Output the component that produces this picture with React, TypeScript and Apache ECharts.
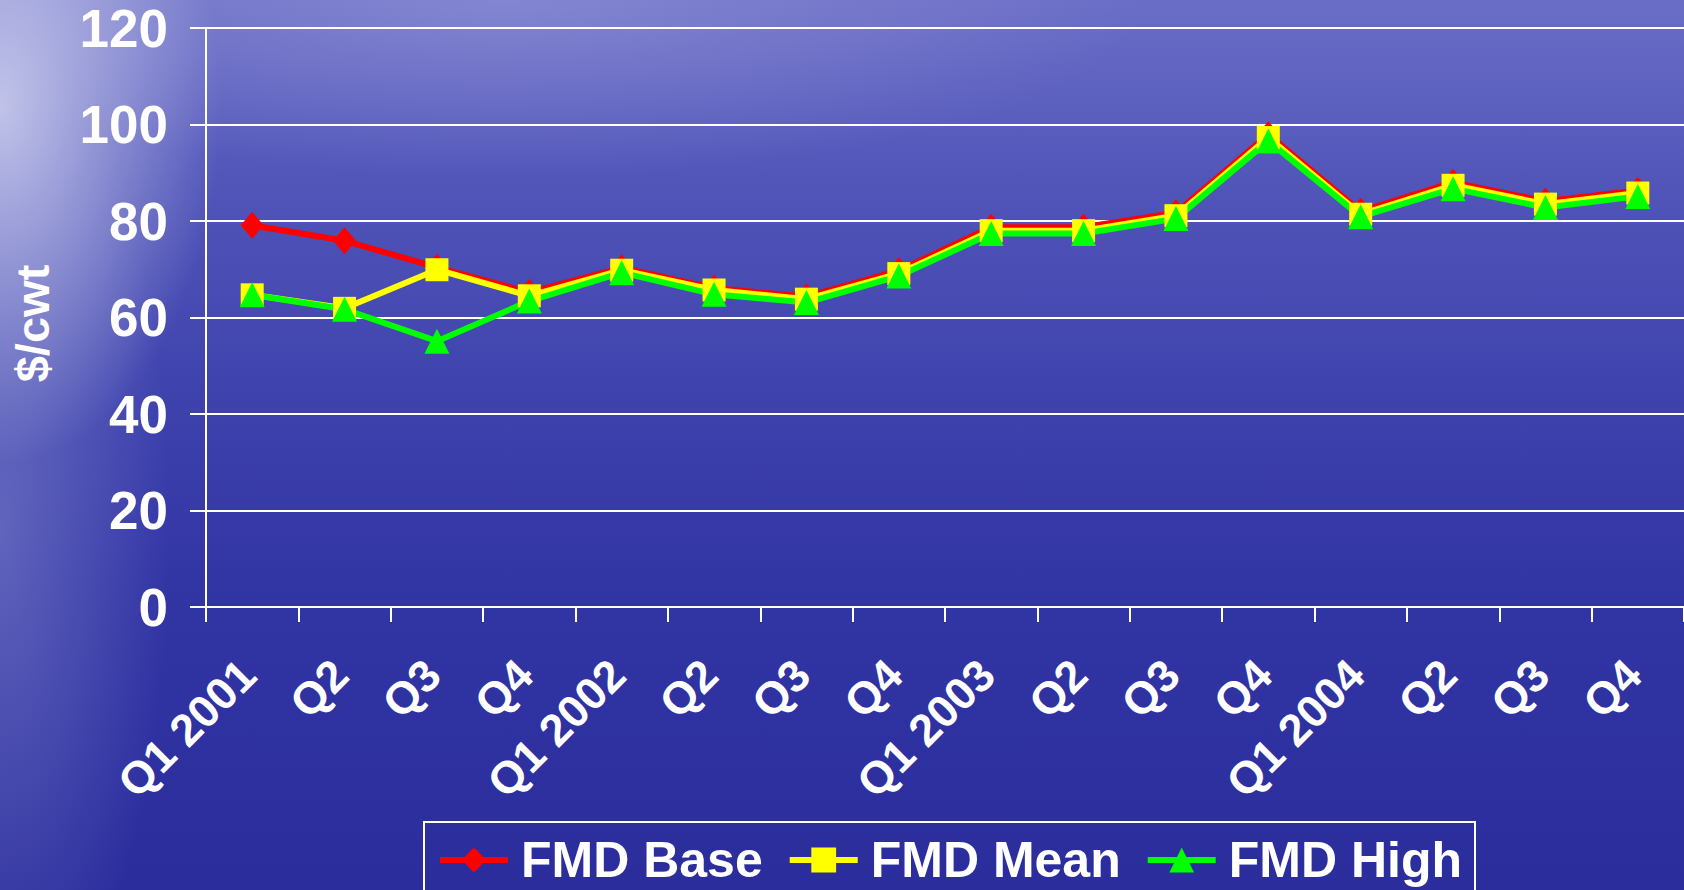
import React, { useEffect, useRef } from "react";
import * as echarts from "echarts";

// Quarterly price scenarios, $/cwt
const quarters = [
  "Q1 2001", "Q2", "Q3", "Q4",
  "Q1 2002", "Q2", "Q3", "Q4",
  "Q1 2003", "Q2", "Q3", "Q4",
  "Q1 2004", "Q2", "Q3", "Q4",
];
const fmdBase = [79.1, 75.9, 70.4, 65.2, 70.3, 66.1, 64.3, 69.7, 78.7, 78.7, 81.7, 97.9, 82.0, 88.0, 84.1, 86.3];
const fmdMean = [64.7, 61.9, 69.9, 64.5, 69.8, 65.7, 63.8, 69.1, 78.0, 78.0, 81.1, 97.3, 81.4, 87.4, 83.5, 85.8];
const fmdHigh = [64.7, 61.7, 55.1, 63.4, 69.3, 64.8, 63.1, 68.6, 77.4, 77.4, 80.5, 96.6, 80.9, 86.7, 82.8, 85.1];

const seriesNames = ["FMD Base", "FMD Mean", "FMD High"];
const yTicks = { min: 0, max: 120, interval: 20 };

const FONT = "'Liberation Sans', Arial, sans-serif";

export default function App() {
  const ref = useRef<HTMLDivElement>(null);

  useEffect(() => {
    if (!ref.current) return;
    const chart = echarts.init(ref.current, undefined, { renderer: "svg" });

    const lineSeries = (name: string, data: number[], color: string, symbol: string, size: any) => ({
      name,
      type: "line",
      data,
      symbol,
      symbolSize: size,
      showSymbol: true,
      lineStyle: { color, width: 6 },
      itemStyle: { color, borderWidth: 0 },
      emphasis: { disabled: true },
    });

    chart.setOption({
      animation: false,
      backgroundColor: "transparent",
      grid: { left: 206, right: -7, top: 28, bottom: 283, containLabel: false },
      legend: {
        left: 424,
        top: 822,
        orient: "horizontal",
        data: seriesNames,
        itemWidth: 68,
        itemHeight: 31,
        itemGap: 24,
        padding: [13, 13, 13, 13],
        borderColor: "#ffffff",
        borderWidth: 2,
        lineStyle: { width: 6 },
        textStyle: {
          color: "#ffffff",
          fontFamily: FONT,
          fontWeight: "bold",
          fontSize: 50,
          padding: [0, 0, 0, 8],
        },
      },
      xAxis: {
        type: "category",
        data: quarters,
        boundaryGap: true,
        axisLine: { show: true, lineStyle: { color: "#ffffff", width: 2 } },
        axisTick: { show: true, length: 15, alignWithLabel: false, interval: 0, lineStyle: { color: "#ffffff", width: 2 } },
        axisLabel: {
          interval: 0,
          rotate: 45,
          margin: 56,
          color: "#ffffff",
          fontFamily: FONT,
          fontWeight: "bold",
          fontSize: 45,
          padding: [0, 6, 0, 0],
        },
        splitLine: { show: false },
      },
      yAxis: {
        type: "value",
        min: yTicks.min,
        max: yTicks.max,
        interval: yTicks.interval,
        name: "$/cwt",
        nameLocation: "middle",
        nameRotate: 90,
        nameGap: 150,
        nameTextStyle: {
          color: "#ffffff",
          fontFamily: FONT,
          fontWeight: "bold",
          fontSize: 47,
          padding: [0, 12, 0, 0],
        },
        axisLine: { show: true, lineStyle: { color: "#ffffff", width: 2 } },
        axisTick: { show: true, length: 16, lineStyle: { color: "#ffffff", width: 2 } },
        axisLabel: {
          margin: 38,
          color: "#ffffff",
          fontFamily: FONT,
          fontWeight: "bold",
          fontSize: 53,
        },
        splitLine: { show: true, lineStyle: { color: "#ffffff", width: 2 } },
      },
      series: [
        lineSeries(seriesNames[0], fmdBase, "#ff0000", "diamond", [23, 27]),
        lineSeries(seriesNames[1], fmdMean, "#ffff00", "rect", 23),
        lineSeries(seriesNames[2], fmdHigh, "#00ff00", "triangle", 25),
      ],
    });

    return () => chart.dispose();
  }, []);

  return (
    <div
      style={{
        position: "fixed",
        left: 0,
        top: 0,
        width: 1684,
        height: 890,
        overflow: "hidden",
        background:
          "radial-gradient(ellipse 260px 420px at 0% 12%, rgba(225,227,246,0.75), rgba(225,227,246,0) 85%)," +
          "radial-gradient(ellipse 200px 600px at 0% 60%, rgba(150,154,215,0.45), rgba(150,154,215,0) 85%)," +
          "radial-gradient(ellipse 800px 220px at 30% 0%, rgba(160,163,220,0.45), rgba(160,163,220,0) 80%)," +
          "linear-gradient(180deg, #6b6ec6 0%, #5256b9 20%, #4044ae 42%, #3235a4 65%, #2b2d9d 100%)",
      }}
    >
      <div ref={ref} style={{ width: 1684, height: 890 }} />
    </div>
  );
}
